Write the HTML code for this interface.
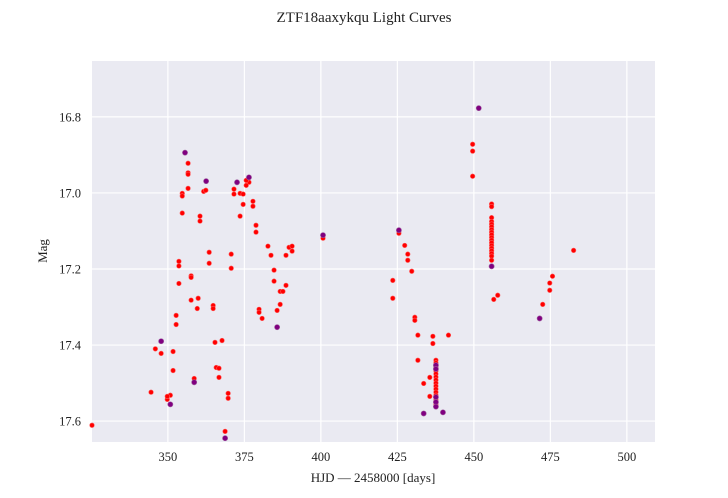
<!DOCTYPE html>
<html><head><meta charset="utf-8"><style>
body{margin:0;background:#fff;}
svg{display:block;font-family:"Liberation Serif",serif;}
</style></head><body>
<svg id="chart" width="728" height="498" viewBox="0 0 728 498" xmlns="http://www.w3.org/2000/svg">
<rect x="0" y="0" width="728" height="498" fill="#fff"/>
<text x="364" y="22" text-anchor="middle" font-size="15" fill="#222">ZTF18aaxykqu Light Curves</text>
<rect x="92" y="61" width="563" height="381" fill="#eaeaf2"/>
<g id="grid"></g>
<g id="ticks"></g>
<g id="marks"></g>
<text x="373" y="482" text-anchor="middle" font-size="13" fill="#222">HJD — 2458000 [days]</text>
<text transform="translate(47,251) rotate(-90)" text-anchor="middle" font-size="13" fill="#222">Mag</text>
</svg>
<script>
const xTicks=[350,375,400,425,450,475,500];
const yTicks=[16.8,17.0,17.2,17.4,17.6];
const yTickLabels=["16.8","17.0","17.2","17.4","17.6"];
const redX=[356.6,356.6,356.6,356.6,361.7,362.4,354.7,354.7,354.7,360.5,360.5,353.6,353.6,357.6,357.6,353.6,357.6,359.9,359.6,352.7,352.7,345.9,347.8,351.7,351.7,358.6,344.5,350.8,349.8,349.8,325.2,363.5,363.5,376.5,375.6,375.6,371.6,371.6,373.6,374.6,377.8,377.8,374.6,373.6,378.8,378.8,400.7,382.7,383.7,389.6,390.6,390.6,388.6,370.7,370.7,384.7,384.7,388.6,386.7,387.6,364.8,364.8,386.7,379.8,379.8,385.7,380.8,367.7,365.4,365.8,366.7,366.7,369.7,369.7,368.7,
449.6,449.6,449.6,455.8,455.8,455.8,455.8,455.8,455.8,455.8,455.8,455.8,455.8,455.8,455.8,455.8,455.8,455.8,455.8,455.8,455.8,425.5,427.4,428.4,428.4,429.7,423.5,423.5,430.7,430.7,431.7,436.6,441.7,436.6,431.7,437.6,437.6,437.6,437.6,437.6,437.6,437.6,437.6,437.6,437.6,437.6,437.6,437.6,437.6,435.6,433.6,435.6,457.8,456.5,482.6,475.7,474.8,474.8,472.5];
const redY=[16.922,16.947,16.951,16.988,16.996,16.993,17.001,17.008,17.053,17.061,17.074,17.180,17.192,17.218,17.222,17.238,17.282,17.277,17.304,17.322,17.346,17.410,17.422,17.417,17.467,17.488,17.524,17.532,17.543,17.535,17.611,17.156,17.185,16.972,16.967,16.980,16.990,17.003,17.001,17.003,17.022,17.035,17.030,17.061,17.085,17.103,17.119,17.140,17.164,17.143,17.140,17.153,17.164,17.161,17.198,17.203,17.232,17.243,17.259,17.259,17.296,17.304,17.293,17.306,17.314,17.309,17.330,17.388,17.393,17.459,17.461,17.485,17.527,17.540,17.627,
16.872,16.890,16.956,17.029,17.036,17.065,17.075,17.082,17.089,17.096,17.103,17.110,17.117,17.124,17.131,17.138,17.145,17.152,17.159,17.166,17.177,17.106,17.138,17.161,17.177,17.206,17.230,17.277,17.327,17.335,17.374,17.377,17.374,17.396,17.440,17.440,17.447,17.458,17.468,17.476,17.484,17.492,17.500,17.508,17.516,17.524,17.532,17.544,17.556,17.485,17.501,17.535,17.269,17.280,17.151,17.219,17.237,17.256,17.293];
const purpleX=[355.6,362.5,347.8,358.6,350.8,372.6,376.5,400.7,385.7,368.7,451.6,455.8,425.5,437.6,437.6,437.6,437.6,437.6,433.6,439.9,471.5];
const purpleY=[16.894,16.969,17.390,17.498,17.556,16.972,16.959,17.111,17.353,17.645,16.777,17.193,17.098,17.453,17.463,17.537,17.550,17.562,17.580,17.577,17.330];

const X0=92,X1=655,Y0=61,Y1=442;
const xMin=325.2,xMax=509.2,yMin=16.653,yMax=17.655;
function sx(v){return X0+(v-xMin)/(xMax-xMin)*(X1-X0);}
function sy(v){return Y0+(v-yMin)/(yMax-yMin)*(Y1-Y0);}
const NS="http://www.w3.org/2000/svg";
const grid=document.getElementById('grid'),ticks=document.getElementById('ticks'),marks=document.getElementById('marks');
function mk(tag,attrs,parent){const e=document.createElementNS(NS,tag);for(const k in attrs)e.setAttribute(k,attrs[k]);parent.appendChild(e);return e;}
xTicks.forEach(v=>{
  const l=mk('line',{x1:sx(v),x2:sx(v),y1:Y0,y2:Y1,stroke:'#fff','stroke-width':1.2},grid);
  
  
  const t=mk('text',{x:sx(v),y:Y1+19,'text-anchor':'middle','font-size':12.5,fill:'#222'},ticks);
  t.textContent=String(v);
  
  
});
yTicks.forEach((v,i)=>{
  const l=mk('line',{x1:X0,x2:X1,y1:sy(v),y2:sy(v),stroke:'#fff','stroke-width':1.2},grid);
  
  
  const t=mk('text',{x:X0-11,y:sy(v)+4.5,'text-anchor':'end','font-size':12.5,fill:'#222'},ticks);
  t.textContent=yTickLabels[i];
  
  
});
redX.forEach((v,i)=>{
  const c=mk('circle',{cx:sx(v),cy:sy(redY[i]),r:2.3,fill:'#ff0000',stroke:'#ff6060','stroke-width':0.6},marks);
  
  
});
purpleX.forEach((v,i)=>{
  const c=mk('circle',{cx:sx(v),cy:sy(purpleY[i]),r:2.6,fill:'#800080',stroke:'#a060a0','stroke-width':0.6},marks);
  
  
});
</script>
</body></html>
